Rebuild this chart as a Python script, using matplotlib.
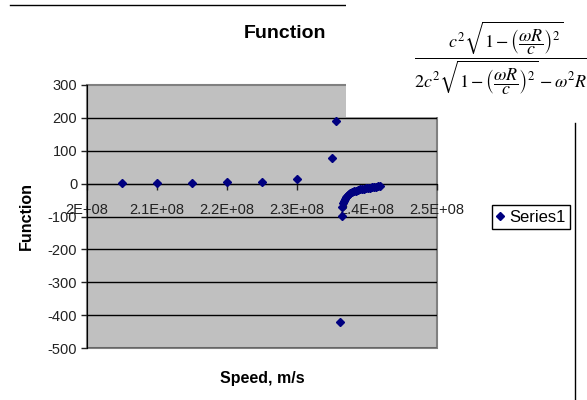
import matplotlib
matplotlib.use("Agg")
import matplotlib.pyplot as plt
from matplotlib.lines import Line2D
from matplotlib.patches import Rectangle

# Speed (m/s) and function value
speed = [
    2.05e8, 2.10e8, 2.15e8, 2.20e8, 2.25e8, 2.30e8,
    2.3496e8, 2.3557e8, 2.3614e8, 2.3639e8,
    2.3643e8, 2.3657e8, 2.3671e8, 2.3686e8, 2.3700e8, 2.3714e8,
    2.3729e8, 2.3743e8, 2.3757e8, 2.3786e8, 2.3814e8, 2.3843e8,
    2.3871e8, 2.3900e8, 2.3929e8, 2.3957e8, 2.3986e8, 2.4014e8,
    2.4043e8, 2.4071e8, 2.4100e8, 2.4129e8, 2.4157e8, 2.4186e8,
]
func = [
    3, 3, 3, 5, 5, 14,
    77, 190, -420, -98,
    -70, -60, -52, -46, -41, -37,
    -34, -31, -28, -25, -23, -21,
    -19, -17, -16, -15, -14, -13,
    -12, -11, -10, -9, -8, -7,
]

x_ticks = [2.0e8, 2.1e8, 2.2e8, 2.3e8, 2.4e8, 2.5e8]
x_labels = ["2E+08", "2.1E+08", "2.2E+08", "2.3E+08", "2.4E+08", "2.5E+08"]
y_ticks = [300, 200, 100, 0, -100, -200, -300, -400, -500]

plt.rcParams["font.family"] = ["Liberation Sans", "DejaVu Sans"]
plt.rcParams["mathtext.fontset"] = "stix"
plt.rcParams["axes.unicode_minus"] = False

W, H = 587, 400
fig = plt.figure(figsize=(W / 100, H / 100), dpi=100)
ax = fig.add_axes([87 / W, 1 - 348 / H, 350 / W, 263 / H])

ax.set_facecolor("#c0c0c0")
ax.patch.set_edgecolor("#808080")
ax.patch.set_linewidth(1.5)

ax.set_xlim(2.0e8, 2.5e8)
ax.set_ylim(-500, 300)
ax.set_yticks(y_ticks)
ax.set_xticks(x_ticks)
ax.set_xticklabels(x_labels)

for y in y_ticks[1:]:
    ax.axhline(y, color="black", lw=1, zorder=1)

ax.plot(speed, func, linestyle="none", marker="D", markersize=4.5,
        color="#000080", label="Series1", zorder=3)

for s in ["top", "right"]:
    ax.spines[s].set_visible(False)
ax.spines["left"].set_color("black")
ax.spines["bottom"].set_position(("data", 0))
ax.spines["bottom"].set_color("black")

ax.tick_params(axis="y", direction="out", length=4, width=1, labelsize=10.5,
               colors="#222222", pad=3)
ax.tick_params(axis="x", direction="out", length=4, width=1, labelsize=10.5,
               colors="#222222", pad=10)

ax.set_ylabel("Function", fontsize=11.5, fontweight="bold", labelpad=10)
fig.text(262 / W, 1 - 378 / H, "Speed, m/s", ha="center", va="center",
         fontsize=11.5, fontweight="bold")
fig.text(285 / W, 1 - 33 / H, "Function", ha="center", va="center",
         fontsize=14, fontweight="bold")

leg = ax.legend(loc="center left", bbox_to_anchor=(492 / W, 1 - 217 / H),
                bbox_transform=fig.transFigure, fontsize=12, frameon=True,
                fancybox=False, framealpha=1, edgecolor="black",
                borderpad=0.25, handlelength=0.5, handletextpad=0.3,
                borderaxespad=0, markerscale=0.8)

# chart border pieces
fig.add_artist(Line2D([10 / W, 346 / W], [1 - 5 / H, 1 - 5 / H],
                      color="black", lw=1))
fig.add_artist(Line2D([575 / W, 575 / W], [1 - 123 / H, 0],
                      color="black", lw=1))

# pasted formula over the top-right corner
fig.add_artist(Rectangle((346 / W, 1 - 117 / H), 1 - 346 / W, 117 / H,
                         transform=fig.transFigure, facecolor="white",
                         edgecolor="none", zorder=5))
formula = (r"$\dfrac{c^2\sqrt{1-\left(\dfrac{\omega R}{c}\right)^2}}"
           r"{2c^2\sqrt{1-\left(\dfrac{\omega R}{c}\right)^2}-\omega^2 R^2}$")
fig.text(505 / W, 1 - 58 / H, formula, ha="center", va="center",
         fontsize=13, zorder=6)

fig.savefig("out.png", dpi=100)
